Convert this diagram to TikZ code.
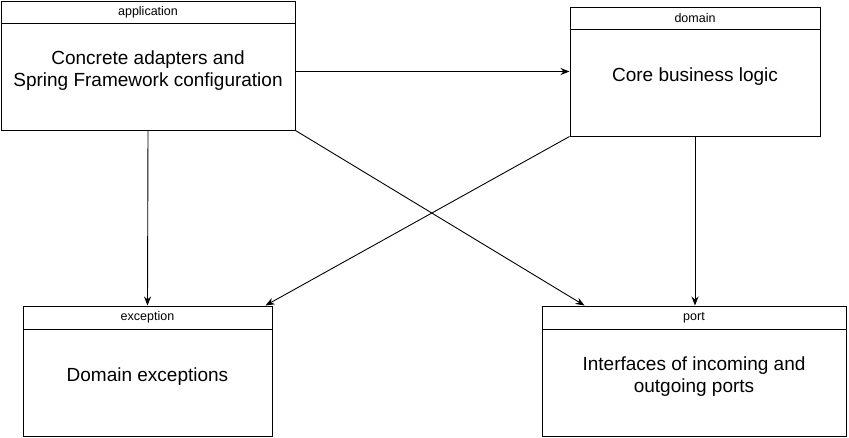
\documentclass[tikz,border=0pt]{standalone}
\usepackage{fontspec}
\setmainfont{Liberation Sans}
\usetikzlibrary{arrows.meta,positioning,calc}

\begin{document}
\begin{tikzpicture}[
    x=1pt, y=-1pt,
    pkg/.style={draw, line width=1pt, inner sep=0pt, minimum height=129pt},
    hdr/.style={draw, line width=1pt, minimum height=22pt, inner sep=0pt,
                anchor=north, font=\fontsize{12.5}{14}\selectfont},
    body/.style={align=center, font=\fontsize{19}{22}\selectfont, yshift=6pt},
    arr/.style={-{Stealth[length=9pt,width=7pt]}, line width=0.9pt}
]
\useasboundingbox (0,0) rectangle (849,437);
\node[pkg, minimum width=294pt] (app) at (148,65.5) {};
\node[hdr, minimum width=294pt] (apphd) at (app.north) {application};
\node[body] (apptxt) at ($(apphd.south)!0.5!(app.south)$) {Concrete adapters and\\Spring Framework configuration};

\node[pkg, minimum width=250pt] (dom) at (695,71.5) {};
\node[hdr, minimum width=250pt] (domhd) at (dom.north) {domain};
\node[body] (domtxt) at ($(domhd.south)!0.5!(dom.south)$) {Core business logic};

\node[pkg, minimum width=249pt, minimum height=130pt] (exc) at (147.5,371) {};
\node[hdr, minimum width=249pt, minimum height=23pt] (exchd) at (exc.north) {exception};
\node[body] (exctxt) at ($(exchd.south)!0.5!(exc.south)$) {Domain exceptions};

\node[pkg, minimum width=304pt, minimum height=130pt] (prt) at (694,371) {};
\node[hdr, minimum width=304pt, minimum height=23pt] (prthd) at (prt.north) {port};
\node[body] (prttxt) at ($(prthd.south)!0.5!(prt.south)$) {Interfaces of incoming and\\outgoing ports};

\draw[arr] (app.east |- dom.west) -- (dom.west);
\draw[arr] (app.south) -- (exc.north);
\draw[arr] (app.south east) -- ([xshift=43pt]prt.north west);
\draw[arr] (dom.south west) -- ([xshift=-7pt]exc.north east);
\draw[arr] (dom.south) -- (dom.south |- prt.north);
\end{tikzpicture}
\end{document}
